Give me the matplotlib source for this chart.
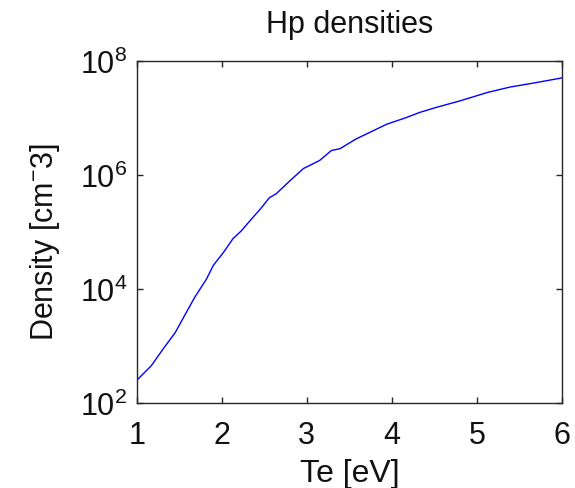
import matplotlib
matplotlib.use('Agg')
import matplotlib.pyplot as plt
from matplotlib.ticker import NullLocator

plt.rcParams['font.family'] = ['Liberation Sans', 'DejaVu Sans']
plt.rcParams['mathtext.fontset'] = 'custom'
plt.rcParams['mathtext.rm'] = 'Liberation Sans'
plt.rcParams['mathtext.it'] = 'Liberation Sans'
plt.rcParams['mathtext.default'] = 'regular'

# values
te = [1.00, 1.17, 1.31, 1.45, 1.57, 1.68, 1.82, 1.90, 2.02, 2.13, 2.23,
      2.35, 2.45, 2.56, 2.64, 2.80, 2.96, 3.15, 3.29, 3.39, 3.58, 3.74,
      3.94, 4.17, 4.33, 4.53, 4.80, 5.12, 5.39, 5.66, 5.98, 6.00]
density = [2.5e2, 4.5e2, 8.9e2, 1.7e3, 3.6e3, 7.1e3, 1.5e4, 2.6e4, 4.4e4,
           7.6e4, 1.05e5, 1.7e5, 2.5e5, 4.0e5, 4.7e5, 7.9e5, 1.3e6, 1.8e6,
           2.7e6, 2.9e6, 4.3e6, 5.6e6, 7.8e6, 1.02e7, 1.26e7, 1.55e7, 2.0e7,
           2.8e7, 3.5e7, 4.1e7, 5.0e7, 5.1e7]

fig = plt.figure(figsize=(5.75, 4.89), dpi=100)
ax = fig.add_axes([0.238, 0.174, 0.739, 0.699])
ax.semilogy(te, density, color='#0000ff', linewidth=1.0)

ax.set_xlim(1, 6)
ax.set_ylim(1e2, 1e8)
ax.set_xticks([1, 2, 3, 4, 5, 6])
ax.set_yticks([1e2, 1e4, 1e6, 1e8])
ax.yaxis.set_minor_locator(NullLocator())

for s in ax.spines.values():
    s.set_color('#262626')
    s.set_linewidth(1.0)
ax.tick_params(direction='in', length=4, width=1, color='#262626',
               top=True, right=True, labelsize=22, labelcolor='#111111')
ax.tick_params(axis='x', pad=12)
ax.tick_params(axis='y', pad=7)

ax.set_title('Hp densities', fontsize=22, pad=21, color='#111111')
ax.set_xlabel('Te [eV]', fontsize=23, labelpad=6, color='#111111')
ax.set_ylabel(r'Density [cm$^{-}$3]', fontsize=22, color='#111111')
ax.yaxis.set_label_coords(-0.175, 0.475)

fig.savefig('out.png', dpi=100)
